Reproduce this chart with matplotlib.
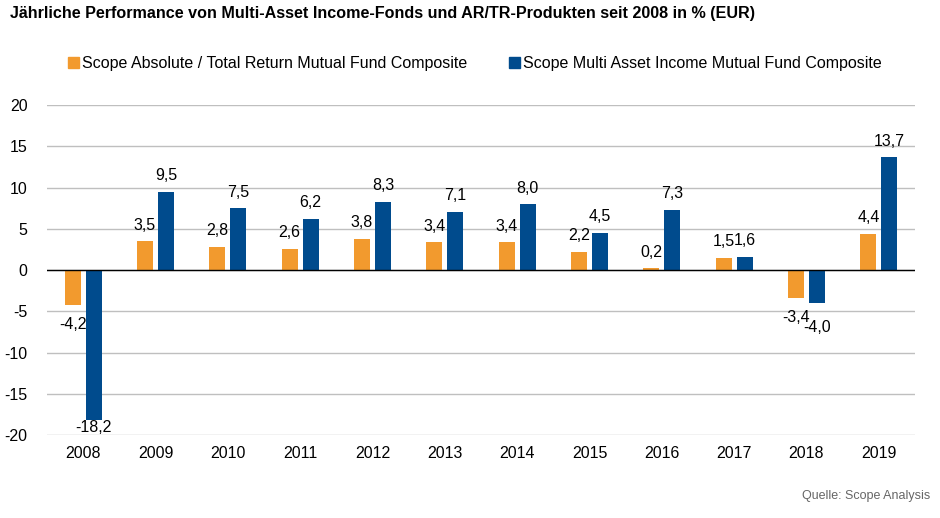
import numpy as np
import matplotlib.pyplot as plt
from matplotlib.patches import Patch

plt.rcParams['font.family'] = ['Liberation Sans', 'DejaVu Sans']

years = ['2008', '2009', '2010', '2011', '2012', '2013', '2014', '2015', '2016', '2017', '2018', '2019']
absolute_return = [-4.2, 3.5, 2.8, 2.6, 3.8, 3.4, 3.4, 2.2, 0.2, 1.5, -3.4, 4.4]
multi_asset = [-18.2, 9.5, 7.5, 6.2, 8.3, 7.1, 8.0, 4.5, 7.3, 1.6, -4.0, 13.7]
series_names = ['Scope Absolute / Total Return Mutual Fund Composite',
                'Scope Multi Asset Income Mutual Fund Composite']
yticks = [-20, -15, -10, -5, 0, 5, 10, 15, 20]

orange = '#F29A2E'
blue = '#004B8D'

fig = plt.figure(figsize=(9.4, 5.18), dpi=100)
ax = fig.add_axes([0.05, 0.160, 0.9234, 0.637])

x = np.arange(len(years))
width = 0.22
offset = 0.145
ax.bar(x - offset, absolute_return, width, color=orange, zorder=3)
ax.bar(x + offset, multi_asset, width, color=blue, zorder=3)

ax.set_xlim(-0.5, len(years) - 0.5)
ax.set_ylim(-20, 20)
ax.set_yticks(yticks)
ax.set_yticklabels([str(t) for t in yticks], fontsize=11.5)
ax.set_xticks(x)
ax.set_xticklabels(years, fontsize=11.5)
ax.tick_params(length=0)
ax.tick_params(axis='y', pad=14)
ax.tick_params(axis='x', pad=8)
for s in ax.spines.values():
    s.set_visible(False)
ax.grid(axis='y', color='#BFBFBF', linewidth=1.0, zorder=0)
ax.axhline(0, color='black', linewidth=1.0, zorder=4)


def fmt(v):
    return f'{v:.1f}'.replace('.', ',')


def label_pos(v, below):
    if v >= 0:
        return v + 1.95
    return max(v - below, -19.05)


# blue labels for negative values sit a bit lower than orange ones
for xs, vals, below in ((x - offset, absolute_return, 2.4), (x + offset, multi_asset, 2.9)):
    for xi, v in zip(xs, vals):
        ax.text(xi, label_pos(v, below), fmt(v), ha='center', va='center', fontsize=11.5, zorder=5)

# title, legend, source
fig.text(0.011, 0.973, 'Jährliche Performance von Multi-Asset Income-Fonds und AR/TR-Produkten seit 2008 in % (EUR)',
         fontsize=11.6, fontweight='bold', ha='left', va='center')

handles = [Patch(color=orange), Patch(color=blue)]
fig.legend(handles, series_names, loc='center', bbox_to_anchor=(0.505, 0.878), ncol=2,
           frameon=False, fontsize=11.5, handlelength=0.7, handleheight=0.7,
           handletextpad=0.2, columnspacing=2.6)

fig.text(0.99, 0.042, 'Quelle: Scope Analysis', fontsize=9, color='#666666', ha='right', va='center')

fig.savefig('out.png', dpi=100)
